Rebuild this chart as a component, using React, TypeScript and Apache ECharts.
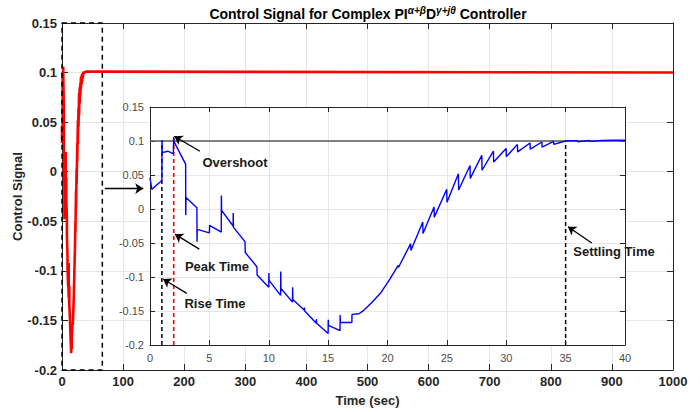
import React, { useEffect, useRef } from "react";
import * as echarts from "echarts";

const signalTime = [
  0, 0.15, 1.0, 1.01, 1.03, 1.5, 1.97, 1.99, 2.02, 3.0, 3.01, 3.03, 3.95, 3.96, 3.98,
  5.0, 5.02, 6.0, 6.01, 6.03, 7.0, 7.01, 7.03, 8.0, 8.02, 9.0, 9.02, 10.0, 10.01, 10.03,
  11.0, 11.01, 11.03, 12.0, 12.01, 12.03, 13.0, 13.01, 13.03, 14.0, 14.01, 14.03,
  15.0, 15.01, 15.03, 16.0, 16.01, 16.03, 17.0, 17.01, 17.6, 18.0, 18.7, 19.4, 20.2,
  20.9, 20.92, 21.95, 21.97, 22.97, 22.99, 23.92, 23.94, 24.99, 25.01, 25.97, 25.99,
  26.95, 26.97, 27.94, 27.96, 28.92, 28.94, 29.99, 30.01, 30.94, 30.96, 32.0, 32.02,
  33.0, 33.02, 33.98, 34.0, 35.0, 36.0, 36.02, 37.0, 37.02, 38.0, 39.0, 40.0,
];
const signalValue = [
  0.046, 0.029, 0.042, 0.101, 0.083, 0.085, 0.081, 0.106, 0.099, 0.066, -0.009, 0.017, 0.002, -0.048, -0.03,
  -0.035, -0.024, -0.034, 0.02, -0.002, -0.025, -0.006, -0.027, -0.048, -0.064, -0.085, -0.097, -0.115, -0.094, -0.105,
  -0.127, -0.092, -0.117, -0.137, -0.115, -0.133, -0.149, -0.145, -0.15, -0.168, -0.162, -0.168,
  -0.183, -0.163, -0.171, -0.179, -0.156, -0.167, -0.167, -0.155, -0.154, -0.149, -0.137, -0.124, -0.103,
  -0.083, -0.086, -0.051, -0.061, -0.019, -0.036, 0.003, -0.012, 0.029, 0.01, 0.052, 0.028,
  0.064, 0.045, 0.079, 0.057, 0.085, 0.069, 0.089, 0.077, 0.095, 0.084, 0.097, 0.088,
  0.0985, 0.091, 0.0995, 0.095, 0.1, 0.1005, 0.099, 0.1007, 0.0995, 0.1008, 0.101, 0.101,
];
const finalTime = [1000];
const finalValue = [0.1];

// Dashed zoom box on the main plot
const zoomBoxTime = [0, 66, 66, 0, 0];
const zoomBoxValue = [0.15, 0.15, -0.2, -0.2, 0.15];

// Reference / marker lines in the inset
const referenceLevel = 0.1;
const riseTime = 1;
const peakTime = 2;
const peakValue = 0.106;
const settlingTime = 35;

// Annotation arrows (inset data space): [fromT, fromV, toT, toV]
const overshootArrow = [4.2, 0.085, 2.05, 0.107];
const peakArrow = [4.15, -0.059, 2.1, -0.037];
const riseArrow = [3.1, -0.124, 1.1, -0.103];
const settleArrow = [37.2, -0.05, 35.2, -0.026];
// Main arrow (main data space)
const mainArrow = [70, -0.017, 133, -0.017];

const FONT = "Liberation Sans, Arial, Helvetica, sans-serif";
const fmt = (v: number) => String(Math.round(v * 100) / 100);
const fmtInt = (v: number) => String(v);

export default function App() {
  const ref = useRef<HTMLDivElement>(null);
  useEffect(() => {
    if (!ref.current) return;
    const chart = echarts.init(ref.current, undefined, { renderer: "svg" });
    const signal = signalTime.map((t, i) => [t, signalValue[i]]);
    const mainSignal = signal.concat(finalTime.map((t, i) => [t, finalValue[i]]));
    const box = zoomBoxTime.map((t, i) => [t, zoomBoxValue[i]]);
    const arrow = (a: number[]) => [{ coord: [a[0], a[1]] }, { coord: [a[2], a[3]] }];

    const axisLine = { show: true, onZero: false, lineStyle: { color: "#262626", width: 1 } };
    const grid = { show: true, lineStyle: { color: "#e6e6e6", width: 1 } };
    const mainTick = { inside: true, length: 6, lineStyle: { color: "#262626" } };
    const insetTick = { inside: true, length: 5, lineStyle: { color: "#262626" } };
    const boldText = { fontFamily: FONT, fontSize: 13, fontWeight: "bold", color: "#262626" };

    const option: any = {
      animation: false,
      backgroundColor: "#ffffff",
      grid: [
        { left: 62, top: 23, width: 611, height: 347, z: 0, containLabel: false, outerBoundsMode: "none" },
        { left: 150, top: 107, width: 475, height: 238, show: true, backgroundColor: "#ffffff", borderWidth: 0, z: 10, containLabel: false, outerBoundsMode: "none" },
      ],
      xAxis: [
        {
          type: "value", gridIndex: 0, min: 0, max: 1000, interval: 100, position: "bottom",
          axisLine, axisTick: mainTick,
          axisLabel: { margin: 5, formatter: fmtInt, ...boldText },
          splitLine: grid,
          name: "Time (sec)", nameLocation: "middle", nameGap: 24, nameMoveOverlap: false, nameTextStyle: boldText,
        },
        {
          type: "value", gridIndex: 0, min: 0, max: 1000, interval: 100, position: "top",
          axisLine, axisTick: mainTick, axisLabel: { show: false }, splitLine: { show: false },
        },
        {
          type: "value", gridIndex: 1, min: 0, max: 40, interval: 5, position: "bottom", z: 11,
          axisLine, axisTick: insetTick,
          axisLabel: { margin: 7, formatter: fmtInt, fontFamily: FONT, fontSize: 11, color: "#4d4d4d" },
          splitLine: grid,
        },
        {
          type: "value", gridIndex: 1, min: 0, max: 40, interval: 5, position: "top", z: 11,
          axisLine, axisTick: insetTick, axisLabel: { show: false }, splitLine: { show: false },
        },
      ],
      yAxis: [
        {
          type: "value", gridIndex: 0, min: -0.2, max: 0.15, interval: 0.05, position: "left",
          axisLine, axisTick: mainTick,
          axisLabel: { margin: 5, formatter: fmt, ...boldText },
          splitLine: grid,
          name: "Control Signal", nameLocation: "middle", nameGap: 38, nameMoveOverlap: false, nameTextStyle: boldText,
        },
        {
          type: "value", gridIndex: 0, min: -0.2, max: 0.15, interval: 0.05, position: "right",
          axisLine, axisTick: mainTick, axisLabel: { show: false }, splitLine: { show: false },
        },
        {
          type: "value", gridIndex: 1, min: -0.2, max: 0.15, interval: 0.05, position: "left", z: 11,
          axisLine, axisTick: insetTick,
          axisLabel: { margin: 6, formatter: fmt, fontFamily: FONT, fontSize: 11, color: "#4d4d4d" },
          splitLine: grid,
        },
        {
          type: "value", gridIndex: 1, min: -0.2, max: 0.15, interval: 0.05, position: "right", z: 11,
          axisLine, axisTick: insetTick, axisLabel: { show: false }, splitLine: { show: false },
        },
      ],
      series: [
        {
          type: "line", xAxisIndex: 0, yAxisIndex: 0, data: mainSignal, showSymbol: false, z: 3,
          lineStyle: { color: "#ff0000", width: 2.6 },
          markLine: {
            silent: true, z: 5, symbol: ["none", "arrow"], symbolSize: 8, label: { show: false },
            lineStyle: { color: "#000000", width: 1.3, type: "solid" },
            data: [arrow(mainArrow)],
          },
        },
        {
          type: "line", xAxisIndex: 0, yAxisIndex: 0, data: box, showSymbol: false, clip: false, z: 4,
          lineStyle: { color: "#000000", width: 1.5, type: [5, 4] },
        },
        {
          type: "line", xAxisIndex: 2, yAxisIndex: 2, showSymbol: false, z: 12,
          data: [[0, referenceLevel], [40, referenceLevel]],
          lineStyle: { color: "#595959", width: 1.5 },
        },
        {
          type: "line", xAxisIndex: 2, yAxisIndex: 2, showSymbol: false, z: 12,
          data: [[riseTime, -0.2], [riseTime, referenceLevel]],
          lineStyle: { color: "#000000", width: 1.5, type: [4, 3] },
        },
        {
          type: "line", xAxisIndex: 2, yAxisIndex: 2, showSymbol: false, z: 12,
          data: [[peakTime, -0.2], [peakTime, peakValue]],
          lineStyle: { color: "#ff0000", width: 1.6, type: [4, 3] },
        },
        {
          type: "line", xAxisIndex: 2, yAxisIndex: 2, showSymbol: false, z: 12,
          data: [[settlingTime, -0.2], [settlingTime, referenceLevel]],
          lineStyle: { color: "#000000", width: 1.5, type: [4, 3] },
        },
        {
          type: "line", xAxisIndex: 2, yAxisIndex: 2, data: signal, showSymbol: false, z: 13,
          lineStyle: { color: "#0000ff", width: 1.4 },
          markLine: {
            silent: true, z: 14, symbol: ["none", "arrow"], symbolSize: 8, label: { show: false },
            lineStyle: { color: "#000000", width: 1.3, type: "solid" },
            data: [arrow(overshootArrow), arrow(peakArrow), arrow(riseArrow), arrow(settleArrow)],
          },
        },
      ],
      graphic: [
        {
          type: "text", x: 368, y: 14, z: 20,
          style: {
            text: "{b|Control Signal for Complex PI}{s|α+β}{b|D}{s|γ+jθ}{b| Controller}",
            align: "center", verticalAlign: "middle", textAlign: "center", textVerticalAlign: "middle",
            rich: {
              b: { fontFamily: FONT, fontSize: 14, fontWeight: "bold", fill: "#000", color: "#000", lineHeight: 18 },
              s: { fontFamily: FONT, fontSize: 10, fontWeight: "bold", fontStyle: "italic", fill: "#000", color: "#000", lineHeight: 10, verticalAlign: "top" },
            },
          },
        },
        ...[
          { t: "Overshoot", x: 235, y: 162 },
          { t: "Peak Time", x: 217, y: 266 },
          { t: "Rise Time", x: 215, y: 303 },
          { t: "Settling Time", x: 614, y: 251 },
        ].map((a) => ({
          type: "text", x: a.x, y: a.y, z: 20,
          style: {
            text: a.t, fontFamily: FONT, fontSize: 13, fontWeight: "bold", fill: "#1a1a1a",
            align: "center", verticalAlign: "middle", textAlign: "center", textVerticalAlign: "middle",
          },
        })),
      ],
    };
    chart.setOption(option);
    return () => chart.dispose();
  }, []);
  return <div ref={ref} style={{ position: "fixed", left: 0, top: 0, width: 700, height: 412 }} />;
}
